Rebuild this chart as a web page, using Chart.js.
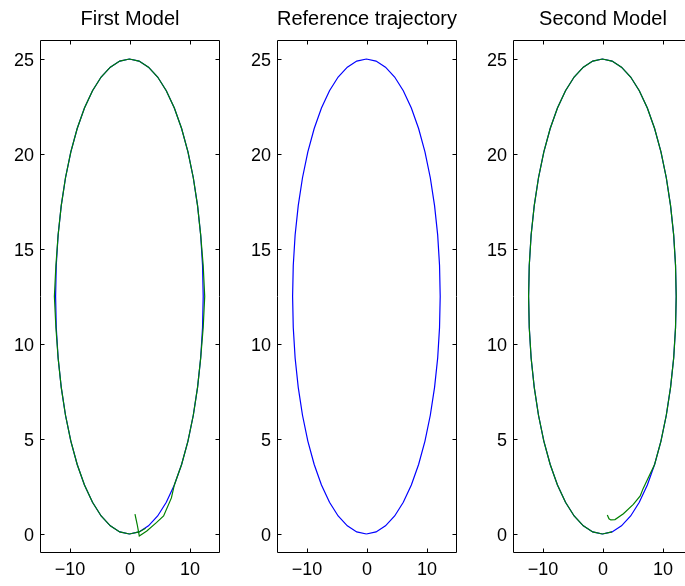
<!DOCTYPE html>
<html><head><meta charset="utf-8">
<script src="https://cdn.jsdelivr.net/npm/chart.js@4"></script>
<style>
html,body{margin:0;padding:0;background:#fff;overflow:hidden;width:685px;height:586px;position:relative}
canvas{position:absolute;top:0}
</style></head>
<body>
<canvas id="c1" width="260" height="586" style="left:0px"></canvas>
<canvas id="c2" width="260" height="586" style="left:237px"></canvas>
<canvas id="c3" width="260" height="586" style="left:473px"></canvas>
<script>
const titles = ['First Model', 'Reference trajectory', 'Second Model'];
const xTicks = [-10, 0, 10];
const yTicks = [0, 5, 10, 15, 20, 25];

// Reference trajectory (blue)
const refX = [-0.1, 1.51, 3.08, 4.61, 6.05, 7.39, 8.60, 9.66, 10.55, 11.26, 11.78, 12.09, 12.2, 12.09, 11.78, 11.26, 10.55, 9.66, 8.60, 7.39, 6.05, 4.61, 3.08, 1.51, -0.1, -1.71, -3.28, -4.81, -6.25, -7.59, -8.80, -9.86, -10.75, -11.46, -11.98, -12.29, -12.4, -12.29, -11.98, -11.46, -10.75, -9.86, -8.80, -7.59, -6.25, -4.81, -3.28, -1.71, -0.1];
const refY = [0, 0.11, 0.43, 0.95, 1.67, 2.58, 3.66, 4.89, 6.25, 7.72, 9.26, 10.87, 12.5, 14.13, 15.74, 17.28, 18.75, 20.11, 21.34, 22.42, 23.33, 24.05, 24.57, 24.89, 25, 24.89, 24.57, 24.05, 23.33, 22.42, 21.34, 20.11, 18.75, 17.28, 15.74, 14.13, 12.5, 10.87, 9.26, 7.72, 6.25, 4.89, 3.66, 2.58, 1.67, 0.95, 0.43, 0.11, 0];

// First model trajectory (green)
const model1X = [0.83, 1.2, 1.55, 2.8, 4.4, 5.6, 6.9, 7.39, 8.60, 9.66, 10.55, 11.26, 11.78, 12.2, 12.45, 12.2, 11.78, 11.26, 10.55, 9.66, 8.60, 7.39, 6.05, 4.61, 3.08, 1.51, -0.1, -1.71, -3.28, -4.81, -6.25, -7.59, -8.80, -9.86, -10.75, -11.46, -11.98, -12.35, -12.6, -12.35, -11.98, -11.46, -10.75, -9.86, -8.80, -7.59, -6.25, -4.81, -3.28, -1.71, -0.1, 1.51, 2.6];
const model1Y = [1.04, 0.5, -0.1, 0.16, 0.6, 0.95, 1.9, 2.58, 3.66, 4.89, 6.25, 7.72, 9.26, 10.87, 12.5, 14.13, 15.74, 17.28, 18.75, 20.11, 21.34, 22.42, 23.33, 24.05, 24.57, 24.89, 25, 24.89, 24.57, 24.05, 23.33, 22.42, 21.34, 20.11, 18.75, 17.28, 15.74, 14.13, 12.5, 10.87, 9.26, 7.72, 6.25, 4.89, 3.66, 2.58, 1.67, 0.95, 0.43, 0.11, 0, 0.11, 0.3];

// Second model trajectory (green)
const model2X = [0.72, 1.0, 1.3, 2.0, 3.4, 5.05, 6.2, 6.7, 7.55, 8.60, 9.66, 10.55, 11.26, 11.78, 12.09, 12.2, 12.09, 11.78, 11.26, 10.55, 9.66, 8.60, 7.39, 6.05, 4.61, 3.08, 1.51, -0.1, -1.71, -3.28, -4.81, -6.25, -7.59, -8.80, -9.86, -10.75, -11.46, -11.98, -12.29, -12.4, -12.29, -11.98, -11.46, -10.75, -9.86, -8.80, -7.59, -6.25, -4.81, -3.28, -1.71, -0.1, 1.51];
const model2Y = [1.0, 0.8, 0.74, 0.76, 1.07, 1.56, 2.0, 2.4, 2.96, 3.66, 4.89, 6.25, 7.72, 9.26, 10.87, 12.5, 14.13, 15.74, 17.28, 18.75, 20.11, 21.34, 22.42, 23.33, 24.05, 24.57, 24.89, 25, 24.89, 24.57, 24.05, 23.33, 22.42, 21.34, 20.11, 18.75, 17.28, 15.74, 14.13, 12.5, 10.87, 9.26, 7.72, 6.25, 4.89, 3.66, 2.58, 1.67, 0.95, 0.43, 0.11, 0, 0.11];

const BLUE = '#0000ff', GREEN = '#008000';
const pts = (xs, ys) => xs.map((x, i) => ({x: x, y: ys[i]}));

Chart.defaults.font.family = '"Liberation Sans", Arial, Helvetica, sans-serif';
Chart.defaults.color = '#000';

const boxPlugin = {
  id: 'box',
  afterDraw(chart) {
    const {ctx, chartArea: a, scales} = chart;
    const L = Math.round(a.left) + 0.5, R = Math.round(a.right) - 0.5;
    const T = Math.round(a.top) + 0.5, B = Math.round(a.bottom) - 0.5;
    const tl = 4;
    ctx.save();
    ctx.strokeStyle = '#000';
    ctx.lineWidth = 1;
    ctx.beginPath();
    ctx.rect(L, T, R - L, B - T);
    xTicks.forEach(v => {
      const px = Math.round(scales.x.getPixelForValue(v)) + 0.5;
      ctx.moveTo(px, B); ctx.lineTo(px, B - tl);
      ctx.moveTo(px, T); ctx.lineTo(px, T + tl);
    });
    yTicks.forEach(v => {
      const py = Math.round(scales.y.getPixelForValue(v)) + 0.5;
      ctx.moveTo(L, py); ctx.lineTo(L + tl, py);
      ctx.moveTo(R, py); ctx.lineTo(R - tl, py);
    });
    ctx.stroke();
    ctx.restore();
  }
};

function makeChart(id, title, datasets) {
  return new Chart(document.getElementById(id), {
    type: 'scatter',
    data: {datasets: datasets},
    options: {
      responsive: false,
      animation: false,
      events: [],
      layout: {padding: {left: 0, right: 40, top: 0, bottom: 0}},
      plugins: {
        legend: {display: false},
        tooltip: {enabled: false},
        title: {
          display: true, text: title, color: '#000', fullSize: false,
          font: {size: 20, weight: 'normal'},
          padding: {top: 7.5, bottom: 8.5}
        }
      },
      scales: {
        x: {
          type: 'linear', min: -15, max: 15,
          grid: {display: false, drawTicks: false},
          border: {display: false},
          afterBuildTicks: s => { s.ticks = xTicks.map(v => ({value: v})); },
          afterFit: s => { s.height = 33; },
          ticks: {
            font: {size: 18}, color: '#000', padding: 6, maxRotation: 0,
            callback: v => String(v).replace('-', '\u2212')
          }
        },
        y: {
          type: 'linear', min: -1, max: 26,
          grid: {display: false, drawTicks: false},
          border: {display: false},
          afterBuildTicks: s => { s.ticks = yTicks.map(v => ({value: v})); },
          afterFit: s => { s.width = 40; },
          ticks: {
            font: {size: 18}, color: '#000', padding: 6, labelOffset: 2,
            callback: v => String(v)
          }
        }
      }
    },
    plugins: [boxPlugin]
  });
}

const lineDs = (data, color) => ({
  data: data, showLine: true, borderColor: color, backgroundColor: color,
  borderWidth: 1.2, pointRadius: 0, tension: 0, fill: false
});

makeChart('c1', titles[0], [lineDs(pts(model1X, model1Y), GREEN), lineDs(pts(refX, refY), BLUE)]);
makeChart('c2', titles[1], [lineDs(pts(refX, refY), BLUE)]);
makeChart('c3', titles[2], [lineDs(pts(model2X, model2Y), GREEN), lineDs(pts(refX, refY), BLUE)]);
</script>
</body></html>
